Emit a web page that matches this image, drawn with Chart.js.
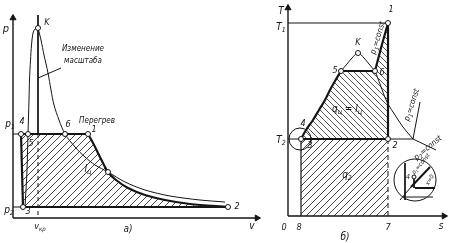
<!DOCTYPE html>
<html><head><meta charset="utf-8">
<script src="https://cdn.jsdelivr.net/npm/chart.js@4.4.1/dist/chart.umd.min.js"></script>
<style>
html,body{margin:0;padding:0;background:#fff;width:449px;height:243px;overflow:hidden;position:relative}
canvas{position:absolute;top:0}
#c1{left:0}
#c2{left:270px}
</style></head><body>
<canvas id="c1" width="270" height="243"></canvas>
<canvas id="c2" width="179" height="243"></canvas>
<script>
// ===== a) p–v diagram: values are (v, p) in diagram units, origin at the axes =====
const pvAxisTop = 203, pvAxisRight = 247;
const pvP1 = 84, pvP2 = 11;
const pvV4 = 8, pvV5 = 15, pvV6 = 52, pvV1 = 75, pvV3 = 10, pvV2 = 215, pvVcr = 25, pvPk = 190;
const pvCross = [95, 46];
const pvSatLiquid = [[25,190],[22,189],[20,185],[18.5,173],[17.5,158],[16.5,138],[16,118],[15,84],[14,48],[12,11]];
const pvSatVapour = [[25,190],[28,178],[31,163],[35,145],[38,128],[41,113],[46,98],[52,84],[62,71],[72,61],[82,53],[95,46],[112,36],[132,28],[157,22],[187,18],[212,16]];
const pvExpansion = [[75,84],[79,77],[84,67],[89,57],[95,46],[103,38],[115,30],[132,23],[152,18],[177,14],[215,11]];
const pvLeader = [[25,140],[48,150]];
const pvLabels = [
  ['p', -7, 189, 11, 0], ['K', 34, 195, 9, 0],
  ['Изменение', 70, 169, 8, 0], ['масштаба', 70, 157, 8, 0],
  ['p_{1}', -3, 94, 10, 0], ['4', 9, 96, 9, 0], ['5', 18, 74, 9, 0],
  ['6', 55, 93, 9, 0], ['1', 81, 88, 9, 0], ['Перегрев', 84, 97, 8, 0],
  ['l_{ц}', 75, 49, 10, 0], ['3', 15, 6, 9, 0], ['p_{2}', -4, 8, 10, 0],
  ['v_{кр}', 27, -9, 9, 0], ['a)', 115, -11, 10, 0], ['2', 224, 11, 9, 0], ['v', 239, -8, 10, 0]
];

// ===== б) T–s diagram: values are (s, T) in diagram units, origin at the axes =====
const tsAxisTop = 211, tsAxisRight = 159;
const tsT1 = 193, tsT2 = 77;
const tsS3 = 13, tsS1 = 100, tsSx = 125, tsSk = 70, tsTk = 163, tsS5 = 53, tsS6 = 87, tsT56 = 145;
const tsLiquid = [[13,77],[18,86],[25,96],[31,106],[37,116],[42,126],[47,135],[53,145]];
const tsDome = [[53,145],[59,152],[64,158],[70,163],[76,158],[81,152],[87,145]];
const tsSuperheat = [[87,145],[93,168],[100,193]];
const tsVapour = [[87,145],[92,132],[96,121],[100,112],[107,101],[115,89],[125,77]];
const tsIsoUp = [[125,77],[132,114]];
const tsIsoDown = [[125,77],[148,66]];
const tsInsetCentre = [127, 36];
const tsInsetLines = {
  vert: [[117,53],[117,16]], thickH: [[127,28],[147,28]], thinH: [[115,19],[145,19]],
  thickD: [[123,29],[142,49]], thinD: [[112,16],[123,29]], stem: [[126,39],[126,28]]
};
const tsLabels = [
  ['T', -7, 205, 10, 0], ['T_{1}', -7, 189, 10, 0], ['T_{2}', -7, 76, 10, 0],
  ['1', 103, 206, 9, 0], ['K', 70, 173, 9, 0], ['5', 47, 145, 9, 0], ['6', 94, 143, 9, 0],
  ['4', 15, 92, 9, 0], ['3', 22, 70, 9, 0], ['2', 107, 70, 9, 0],
  ['q_{ц} = l_{ц}', 59, 107, 10, 0], ['q_{2}', 59, 41, 10, 0],
  ['0', -4, -12, 9, 0], ['8', 11, -12, 9, 0], ['7', 100, -12, 9, 0], ['s', 153, -10, 10, 0], ['б)', 57, -21, 10, 0],
  ['p_{1}=const', 90, 178, 8, -73], ['p_{1}=const', 124, 111, 8, -72], ['p_{2}=const', 140, 68, 8, -40],
  ['p_{1}=const', 133, 52, 6, -50], ['x=0', 142, 36, 6, -60], ['4', 120, 39, 7, 0]
];

// ===== helpers =====
const INK = '#151515';
const FONT = '"DejaVu Sans Condensed","Liberation Sans Narrow","DejaVu Sans",sans-serif';
const P = a => a.map(([x, y]) => ({x, y}));
function ln(pts, w, extra) {
  return Object.assign({data: P(pts), borderColor: INK, borderWidth: w || 1, pointRadius: 0, fill: false,
    tension: 0, clip: false, order: 0}, extra || {});
}
function dots(pts, r, extra) {
  return Object.assign({data: P(pts), showLine: false, pointRadius: r || 2.5, pointHoverRadius: r || 2.5,
    pointBackgroundColor: '#fff', pointBorderColor: INK, pointBorderWidth: 1, order: -1, clip: false}, extra || {});
}
function arrow(pt, rot) {
  return {data: P([pt]), showLine: false, pointStyle: 'triangle', pointRadius: 3.5, rotation: rot,
    pointBackgroundColor: INK, pointBorderColor: INK, pointBorderWidth: 1, order: -1, clip: false};
}
function hatch(size, dir, color, lw) {
  const c = document.createElement('canvas'); c.width = c.height = size;
  const g = c.getContext('2d'); g.strokeStyle = color; g.lineWidth = lw; g.beginPath();
  if (dir > 0) { g.moveTo(0, size); g.lineTo(size, 0); g.moveTo(-1, 1); g.lineTo(1, -1); g.moveTo(size - 1, size + 1); g.lineTo(size + 1, size - 1); }
  else { g.moveTo(0, 0); g.lineTo(size, size); g.moveTo(-1, size - 1); g.lineTo(1, size + 1); g.moveTo(size - 1, -1); g.lineTo(size + 1, 1); }
  g.stroke();
  return g.createPattern(c, 'repeat');
}
function area(pts, pattern) {
  return {data: P(pts), borderColor: 'transparent', borderWidth: 0, pointRadius: 0, fill: 'shape',
    backgroundColor: pattern, tension: 0, clip: false, order: 10};
}
function drawLabel(ctx, x, y, str, size, rot) {
  const parts = []; const re = /_\{([^}]*)\}/g; let last = 0, m;
  while ((m = re.exec(str))) { if (m.index > last) parts.push([str.slice(last, m.index), 0]); parts.push([m[1], 1]); last = re.lastIndex; }
  if (last < str.length) parts.push([str.slice(last), 0]);
  const fMain = `italic ${size}px ${FONT}`, fSub = `italic ${Math.round(size * 0.72)}px ${FONT}`;
  let w = 0; for (const [t, s] of parts) { ctx.font = s ? fSub : fMain; w += ctx.measureText(t).width; }
  ctx.save(); ctx.translate(x, y); ctx.rotate(rot * Math.PI / 180);
  ctx.textBaseline = 'middle'; ctx.textAlign = 'left'; ctx.fillStyle = INK;
  let cx = -w / 2;
  for (const [t, s] of parts) { ctx.font = s ? fSub : fMain; ctx.fillText(t, cx, s ? size * 0.32 : 0); cx += ctx.measureText(t).width; }
  ctx.restore();
}
function textPlugin(labels) {
  return {id: 'labels', afterDatasetsDraw(chart) {
    const {ctx, scales: {x, y}} = chart;
    for (const [t, lx, ly, sz, rot] of labels) drawLabel(ctx, x.getPixelForValue(lx), y.getPixelForValue(ly), t, sz, rot);
  }};
}
function opts(xmin, xmax, ymin, ymax) {
  return {responsive: false, animation: false, devicePixelRatio: 1,
    layout: {padding: 0, autoPadding: false},
    plugins: {legend: {display: false}, tooltip: {enabled: false}},
    events: [],
    scales: {x: {type: 'linear', min: xmin, max: xmax, display: false},
             y: {type: 'linear', min: ymin, max: ymax, display: false}}};
}

// ===== chart a) =====
const pvArea = [[pvV4, pvP1], ...pvExpansion, [pvV3, pvP2], [pvV4, pvP1]];
new Chart(document.getElementById('c1'), {
  type: 'line',
  data: {datasets: [
    area(pvArea, hatch(7, 1, '#333', 0.9)),
    ln([[0, 0], [0, pvAxisTop]], 1.4),
    ln([[0, 0], [pvAxisRight, 0]], 1.4),
    arrow([0, pvAxisTop - 3], 0),
    arrow([pvAxisRight - 3, 0], 90),
    ln([[0, pvP1], [pvV4, pvP1]], 1),
    ln([[pvV4, pvP1], [pvV1, pvP1]], 2.2),
    ln([[0, pvP2], [pvV3, pvP2]], 1),
    ln([[pvV3, pvP2], [pvV2, pvP2]], 2.2),
    ln([[pvV4, pvP1], [pvV3, pvP2]], 2.2),
    ln(pvSatLiquid, 1, {tension: 0.3}),
    ln(pvSatVapour, 1, {tension: 0.3}),
    ln(pvExpansion, 2.2, {tension: 0.3}),
    ln([[pvVcr, pvAxisTop], [pvVcr, pvP1]], 1),
    ln([[pvVcr, pvP1], [pvVcr, 0]], 1, {borderDash: [4, 3]}),
    ln(pvLeader, 1),
    dots([[pvVcr, pvPk], [pvV4, pvP1], [pvV5, pvP1], [pvV6, pvP1], [pvV1, pvP1], [pvV3, pvP2], [pvV2, pvP2], pvCross])
  ]},
  options: opts(-13, 257, -25, 218),
  plugins: [textPlugin(pvLabels)]
});

// ===== chart б) =====
const tsUpper = [...tsLiquid, ...tsSuperheat, [tsS1, tsT2], [tsS3, tsT2]];
const tsLower = [[tsS3, 0], [tsS3, tsT2], [tsS1, tsT2], [tsS1, 0], [tsS3, 0]];
new Chart(document.getElementById('c2'), {
  type: 'line',
  data: {datasets: [
    area(tsUpper, hatch(6, -1, '#444', 0.9)),
    area(tsLower, hatch(7, 1, '#333', 0.9)),
    ln([[0, 0], [0, tsAxisTop]], 1.4),
    ln([[0, 0], [tsAxisRight, 0]], 1.4),
    arrow([0, tsAxisTop - 3], 0),
    arrow([tsAxisRight - 3, 0], 90),
    ln([[0, tsT1], [tsS1, tsT1]], 1),
    ln([[0, tsT2], [tsS3, tsT2]], 1),
    ln([[tsS3, tsT2], [tsS1, tsT2]], 2.2),
    ln([[tsS1, tsT2], [tsSx, tsT2]], 1),
    ln([[tsS1, tsT1], [tsS1, tsT2]], 2.2),
    ln([[tsS1, tsT2], [tsS1, 0]], 1, {borderDash: [5, 3]}),
    ln([[tsS3, tsT2], [tsS3, 0]], 1.2),
    ln(tsLiquid, 2.2, {tension: 0.3}),
    ln([[tsS5, tsT56], [tsS6, tsT56]], 2.2),
    ln(tsDome, 1, {tension: 0.35}),
    ln(tsSuperheat, 2.2, {tension: 0.2}),
    ln(tsVapour, 1, {tension: 0.3}),
    ln(tsIsoUp, 1), ln(tsIsoDown, 1),
    ln(tsInsetLines.vert, 1), ln(tsInsetLines.thickH, 2), ln(tsInsetLines.thinH, 1),
    ln(tsInsetLines.thickD, 2), ln(tsInsetLines.thinD, 1), ln(tsInsetLines.stem, 1),
    dots([tsInsetCentre], 21, {pointBackgroundColor: 'rgba(0,0,0,0)'}),
    dots([[tsS3 - 1, tsT2]], 11, {pointBackgroundColor: 'rgba(0,0,0,0)'}),
    dots([[126, 39]], 2),
    dots([[tsS1, tsT1], [tsSk, tsTk], [tsS5, tsT56], [tsS6, tsT56], [tsS3, tsT2], [tsS1, tsT2]])
  ]},
  options: opts(-18, 161, -27, 216),
  plugins: [textPlugin(tsLabels)]
});
</script>
</body></html>
